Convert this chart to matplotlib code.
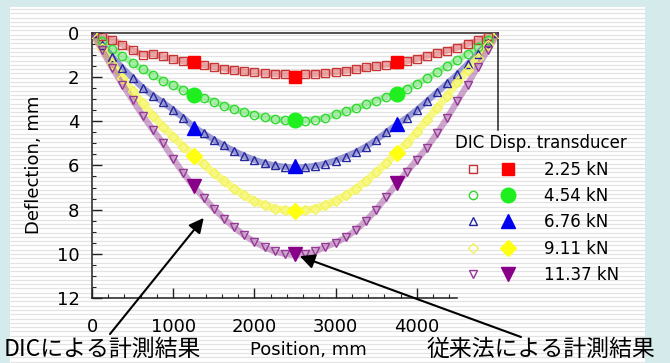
import numpy as np
import matplotlib
matplotlib.use("Agg")
import matplotlib.pyplot as plt
from matplotlib.legend_handler import HandlerTuple
from matplotlib.ticker import FixedLocator

# ---------------- data ----------------
pos_dic = [0, 125, 250, 375, 500, 625, 750, 875, 1000, 1125, 1250, 1375, 1500, 1625,
           1750, 1875, 2000, 2125, 2250, 2375, 2500, 2625, 2750, 2875, 3000, 3125,
           3250, 3375, 3500, 3625, 3750, 3875, 4000, 4125, 4250, 4375, 4500, 4625,
           4750, 4875, 5000]

dic_225 = [0, 0.17, 0.34, 0.55, 0.80, 1.00, 0.97, 1.08, 1.20, 1.30, 1.38, 1.47, 1.56, 1.63,
           1.70, 1.76, 1.80, 1.84, 1.87, 1.89, 1.90, 1.89, 1.87, 1.84, 1.79, 1.72,
           1.66, 1.58, 1.52, 1.46, 1.40, 1.30, 1.18, 1.06, 0.94, 0.82, 0.68, 0.53,
           0.36, 0.18, 0]
dic_454 = [0, 0.38, 0.74, 1.08, 1.38, 1.65, 1.92, 2.17, 2.38, 2.58, 2.76, 2.95, 3.12, 3.30,
           3.45, 3.60, 3.72, 3.83, 3.92, 3.97, 4.00, 3.98, 3.93, 3.85, 3.70, 3.55,
           3.40, 3.24, 3.07, 2.90, 2.74, 2.54, 2.32, 2.06, 1.78, 1.50, 1.24, 0.95,
           0.64, 0.32, 0]
dic_676 = [0, 0.55, 1.10, 1.60, 2.05, 2.50, 2.85, 3.15, 3.50, 3.85, 4.25, 4.55, 4.85, 5.10,
           5.35, 5.57, 5.75, 5.90, 6.00, 6.07, 6.10, 6.08, 6.02, 5.92, 5.78, 5.60,
           5.40, 5.15, 4.85, 4.50, 4.17, 3.85, 3.50, 3.10, 2.70, 2.30, 1.88, 1.43,
           0.96, 0.48, 0]
dic_911 = [0, 0.70, 1.40, 2.05, 2.65, 3.20, 3.75, 4.25, 4.70, 5.15, 5.55, 5.95, 6.35, 6.70,
           7.05, 7.35, 7.60, 7.80, 7.95, 8.03, 8.05, 8.03, 7.95, 7.80, 7.60, 7.35,
           7.05, 6.70, 6.30, 5.90, 5.45, 5.00, 4.50, 3.95, 3.40, 2.85, 2.25, 1.70,
           1.15, 0.58, 0]
dic_1137 = [0, 0.80, 1.60, 2.35, 3.05, 3.75, 4.40, 5.00, 5.70, 6.35, 6.95, 7.45, 7.95, 8.40,
            8.80, 9.15, 9.45, 9.70, 9.88, 10.00, 10.05, 10.00, 9.88, 9.68, 9.50, 9.25,
            8.92, 8.50, 8.00, 7.42, 6.85, 6.30, 5.75, 5.20, 4.55, 3.85, 3.10, 2.35,
            1.55, 0.78, 0]

pos_td = [1250, 2500, 3750]
td_225 = [1.35, 2.00, 1.35]
td_454 = [2.80, 3.97, 2.77]
td_676 = [4.30, 6.03, 4.15]
td_911 = [5.58, 8.04, 5.45]
td_1137 = [6.95, 9.98, 6.80]

load_labels = ["2.25 kN", "4.54 kN", "6.76 kN", "9.11 kN", "11.37 kN"]
x_ticks = [0, 1000, 2000, 3000, 4000]
y_ticks = [0, 2, 4, 6, 8, 10, 12]

# ---------------- figure ----------------
W, H = 670, 363
fig = plt.figure(figsize=(W / 100, H / 100), dpi=100, facecolor="#d5ebeb")

# white striped panel
bg = fig.add_axes([10 / W, 0, 635 / W, 1 - 7 / H])
bg.set_xlim(0, 1)
bg.set_ylim(0, H - 7)
bg.set_facecolor("white")
bg.hlines(np.arange(1.5, H - 7, 4.3), 0, 1, color="#e3e3e3", lw=0.9)
bg.axis("off")
bg.add_patch(plt.Rectangle((0, 0), 1, H - 7, facecolor="white", zorder=-1))

ax = fig.add_axes([92 / W, 1 - 298.3 / H, 406 / W, (298.3 - 32.5) / H])
ax.set_facecolor("none")
ax.set_xlim(0, 5000)
ax.set_ylim(12, 0)

# (dic, td, marker, dic colour, band colour, td colour, dic ms, td ms, band lw, band alpha)
series = [
    (dic_225, td_225, "s", "#c83434", "#d85050", "#ff0000", 6, 9, 4.5, 0.5),
    (dic_454, td_454, "o", "#30d830", "#50e050", "#1fef1f", 6, 10.5, 4.5, 0.5),
    (dic_676, td_676, "^", "#26269e", "#4040b0", "#0000ee", 6, 10.5, 4.5, 0.5),
    (dic_911, td_911, "D", "#f2f25a", "#f8f870", "#ffff10", 5, 8, 5.5, 0.85),
    (dic_1137, td_1137, "v", "#963896", "#a050a0", "#880088", 6, 10.5, 4.5, 0.5),
]
handles = []
for dic, td, mk, cdic, cband, ctd, ms_d, ms_t, lwb, ab in series:
    ax.plot(pos_dic, dic, "-", color=cband, lw=lwb, alpha=ab, zorder=2,
            solid_capstyle="round")
    h1, = ax.plot(pos_dic, dic, ls="none", marker=mk, ms=ms_d, mfc="none",
                  mec=cdic, mew=1.0, zorder=3)
    h2, = ax.plot(pos_td, td, ls="none", marker=mk, ms=ms_t, color=ctd,
                  mec=ctd, zorder=4)
    handles.append((h1, h2))

# spines
for s in ["left", "bottom", "top", "right"]:
    ax.spines[s].set_linewidth(1.1)
    ax.spines[s].set_color("#222222")
ax.spines["bottom"].set_bounds(0, 4500)
ax.spines["right"].set_bounds(0, 4.4)

ax.xaxis.set_major_locator(FixedLocator(x_ticks))
ax.xaxis.set_minor_locator(FixedLocator(np.arange(0, 4401, 200)))
ax.yaxis.set_major_locator(FixedLocator(y_ticks))
ax.yaxis.set_minor_locator(FixedLocator(np.arange(0, 12.01, 0.5)))
ax.set_xticklabels([str(v) for v in x_ticks])
ax.set_yticklabels([str(v) for v in y_ticks])
ax.tick_params(axis="both", which="both", direction="in", colors="#222222",
               top=False, right=False)
ax.tick_params(axis="both", which="major", length=7, width=1.0, labelsize=13,
               labelcolor="black")
ax.tick_params(axis="both", which="minor", length=3, width=0.8)
ax.tick_params(axis="x", which="major", pad=14)
ax.tick_params(axis="y", which="major", pad=9)

fig.text(308 / W, 1 - 350 / H, "Position, mm", fontsize=13, ha="center", va="center")
fig.text(34 / W, 1 - 165 / H, "Deflection, mm", fontsize=13, ha="center",
         va="center", rotation=90)

leg = ax.legend(handles, load_labels, title="DIC Disp. transducer",
                handler_map={tuple: HandlerTuple(ndivide=None, pad=0)},
                loc="upper left", bbox_to_anchor=(447 / W, 1 - 126 / H),
                bbox_transform=fig.transFigure, frameon=False, fontsize=12,
                title_fontsize=12, alignment="left", borderpad=0,
                handlelength=4.2, handletextpad=1.1, labelspacing=0.5)

jp = ["Noto Sans CJK JP", "DejaVu Sans"]
fig.text(4 / W, 1 - 349 / H, "DICによる計測結果", fontsize=16.5, ha="left",
         va="center", family=jp)
fig.text(427 / W, 1 - 349 / H, "従来法による計測結果", fontsize=16.5, ha="left",
         va="center", family=jp)

arrow = dict(arrowstyle="-|>", color="black", lw=1.5, mutation_scale=22,
             shrinkA=0, shrinkB=0)
ax.annotate("", xy=(1376, 8.37), xycoords="data",
            xytext=(110 / W, 1 - 334 / H), textcoords="figure fraction",
            arrowprops=arrow)
ax.annotate("", xy=(2560, 10.1), xycoords="data",
            xytext=(521 / W, 1 - 337 / H), textcoords="figure fraction",
            arrowprops=arrow)

fig.savefig("out.png", dpi=100, facecolor=fig.get_facecolor())
